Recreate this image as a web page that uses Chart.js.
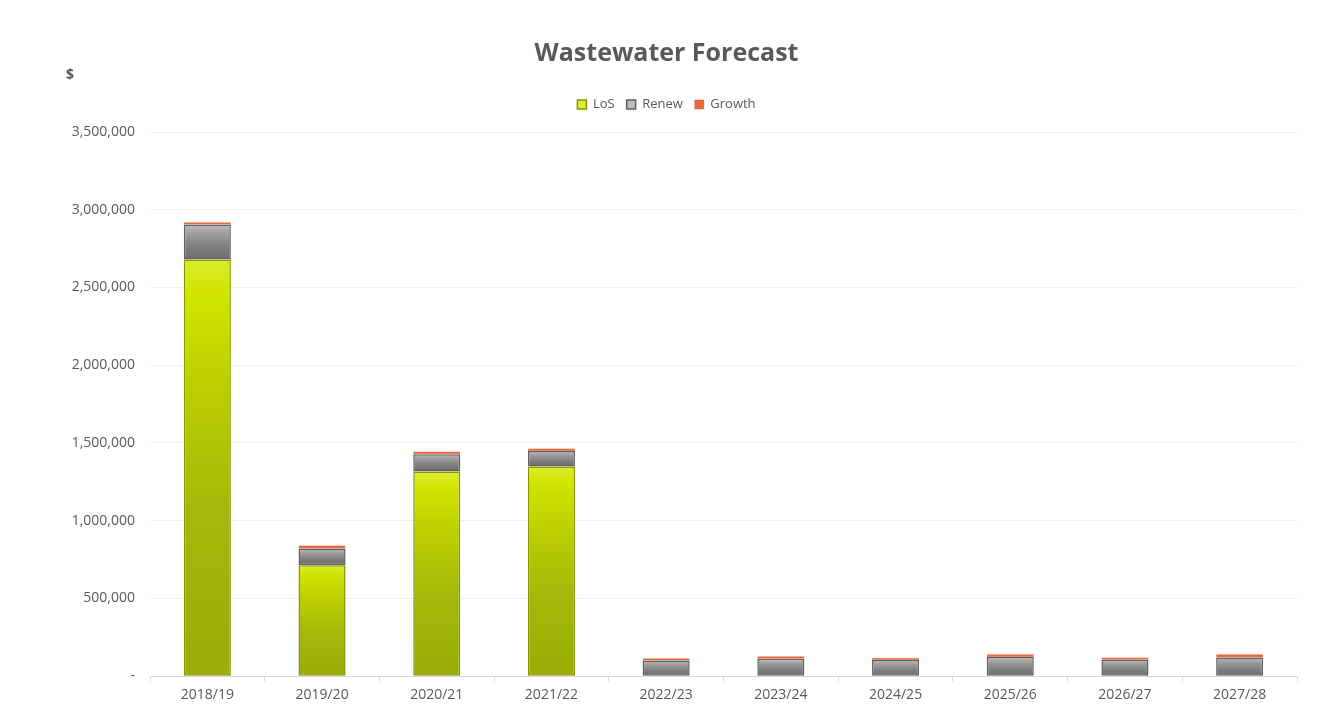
<!DOCTYPE html>
<html>
<head>
<meta charset="utf-8">
<script src="https://cdn.jsdelivr.net/npm/chart.js@4.4.1/dist/chart.umd.min.js"></script>
<style>
  html, body { margin: 0; padding: 0; background: #fff; }
  #wrap { position: relative; width: 1333px; height: 715px; }
</style>
</head>
<body>
<div id="wrap"><canvas id="myChart" width="1333" height="715"></canvas></div>
<script>
const years = ['2018/19', '2019/20', '2020/21', '2021/22', '2022/23', '2023/24', '2024/25', '2025/26', '2026/27', '2027/28'];
const los = [2680000, 713000, 1317000, 1349000, 0, 0, 0, 0, 0, 0];
const renew = [225000, 109000, 110000, 99000, 101000, 113000, 104000, 123000, 105000, 121000];
const growth = [15000, 19000, 18000, 16000, 15000, 15000, 15000, 18000, 15000, 20000];

const textColor = '#595959';
const font = "'Open Sans', sans-serif";

// vertical gradient over a single stacked segment
function segFill(stops, fallback) {
  return function(c) {
    const chart = c.chart;
    const y = chart.scales && chart.scales.y;
    if (c.type !== 'data' || !chart.chartArea || !y) return fallback;
    let base = 0;
    for (let k = 0; k < c.datasetIndex; k++) base += chart.data.datasets[k].data[c.dataIndex];
    const top = base + chart.data.datasets[c.datasetIndex].data[c.dataIndex];
    const y0 = y.getPixelForValue(base);
    const y1 = y.getPixelForValue(top);
    if (Math.abs(y0 - y1) < 1) return fallback;
    const g = chart.ctx.createLinearGradient(0, y1, 0, y0);
    stops.forEach(s => g.addColorStop(s[0], s[1]));
    return g;
  };
}

const dollarLabel = {
  id: 'dollarLabel',
  beforeInit(chart) {
    // extra room under the legend
    const fit = chart.legend.fit;
    chart.legend.fit = function() {
      fit.call(this);
      this.height += 11;
    };
  },
  afterDraw(chart) {
    const ctx = chart.ctx;
    ctx.save();
    ctx.fillStyle = textColor;
    ctx.font = "bold 14px " + font;
    ctx.textBaseline = 'middle';
    ctx.fillText('$', 66, 75);
    ctx.restore();
  }
};

const ctx = document.getElementById('myChart').getContext('2d');
new Chart(ctx, {
  type: 'bar',
  data: {
    labels: years,
    datasets: [
      {
        label: 'LoS',
        data: los,
        backgroundColor: segFill([[0, '#dcec30'], [0.08, '#d2e400'], [0.3, '#bccf00'], [0.6, '#a5b80a'], [1, '#9aad08']], '#b3cc00'),
        borderColor: '#859600',
        borderWidth: 1.5,
        borderSkipped: false
      },
      {
        label: 'Renew',
        data: renew,
        backgroundColor: segFill([[0, '#bcbcbc'], [0.3, '#9a9a9a'], [0.7, '#7a7a7a'], [1, '#6c6c6c']], '#7f7f7f'),
        borderColor: '#5f5f5f',
        borderWidth: 1.5,
        borderSkipped: false
      },
      {
        label: 'Growth',
        data: growth,
        backgroundColor: '#e8683c',
        borderColor: '#d9552b',
        borderWidth: 0.5,
        borderSkipped: false
      }
    ]
  },
  options: {
    responsive: false,
    animation: false,
    datasets: { bar: { barPercentage: 0.41, categoryPercentage: 1 } },
    layout: { padding: { left: 36, right: 36, top: 0, bottom: 7 } },
    plugins: {
      title: {
        display: true,
        text: 'Wastewater Forecast',
        color: textColor,
        font: { family: font, size: 25, weight: 'bold' },
        padding: { top: 39, bottom: 17 }
      },
      legend: {
        position: 'top',
        labels: {
          color: textColor,
          font: { family: font, size: 13 },
          boxWidth: 9,
          boxHeight: 9,
          padding: 12
        }
      },
      tooltip: { enabled: false }
    },
    scales: {
      x: {
        stacked: true,
        grid: { display: true, drawOnChartArea: false, drawTicks: true, tickLength: 5, offset: true, color: '#d9d9d9' },
        border: { color: '#d9d9d9' },
        ticks: { color: textColor, font: { family: font, size: 14 }, padding: 5 }
      },
      y: {
        stacked: true,
        min: 0,
        max: 3500000,
        afterFit: s => { s.width = 114; },
        grid: { color: '#efefef', drawTicks: false },
        border: { display: false },
        ticks: {
          stepSize: 500000,
          color: textColor,
          padding: 15,
          font: { family: font, size: 14 },
          callback: v => v === 0 ? '-' : v.toLocaleString('en-US')
        }
      }
    }
  },
  plugins: [dollarLabel]
});
</script>
</body>
</html>
